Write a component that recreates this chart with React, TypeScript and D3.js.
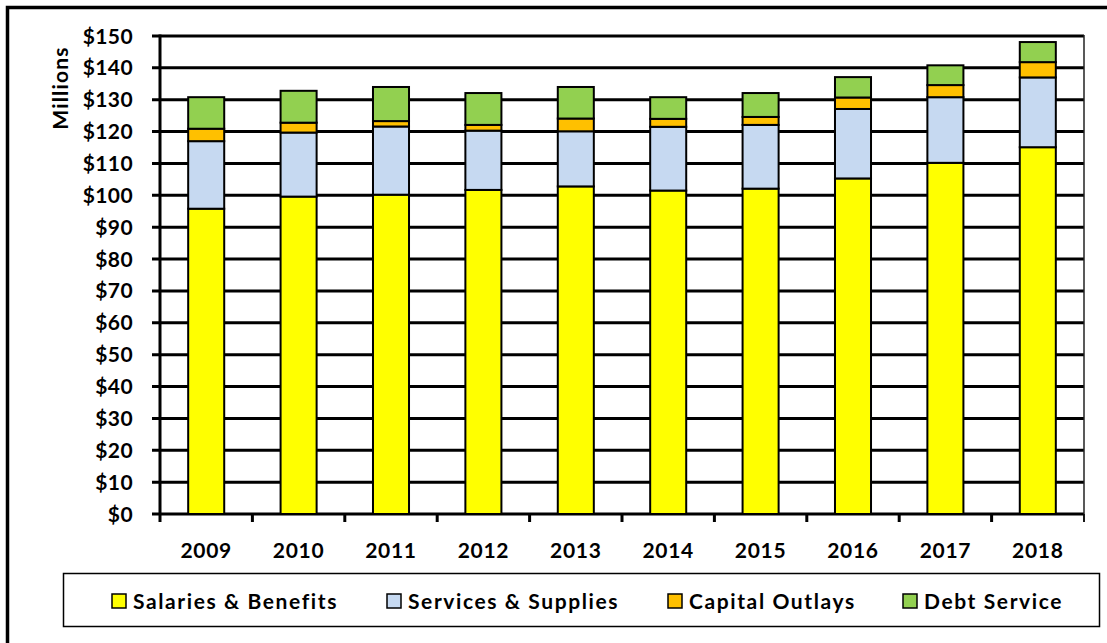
import React from "react";
import * as d3 from "d3";

const years = ["2009", "2010", "2011", "2012", "2013", "2014", "2015", "2016", "2017", "2018"];
const salaries = [95.8, 99.6, 100.2, 101.7, 102.8, 101.5, 102.1, 105.3, 110.2, 115.1];
const services = [21.2, 20.1, 21.4, 18.6, 17.3, 20.0, 20.0, 21.8, 20.6, 21.9];
const capital = [3.9, 3.1, 1.7, 1.8, 4.0, 2.5, 2.5, 3.6, 3.8, 4.8];
const debt = [9.9, 10.0, 10.7, 10.0, 9.9, 6.8, 7.5, 6.4, 6.2, 6.3];
const seriesNames = ["Salaries & Benefits", "Services & Supplies", "Capital Outlays", "Debt Service"];
const seriesColors = ["#FFFF00", "#C6D9F1", "#FFC000", "#92D050"];
const yTicks = d3.range(0, 151, 10);

const W = 1107, H = 643;
const M = { left: 160, right: 1084, top: 36, bottom: 514 };
const FONT = "Lato, 'Open Sans', sans-serif";

export default function App() {
  const keys = ["s0", "s1", "s2", "s3"];
  const rows = years.map((y, i) => ({ year: y, s0: salaries[i], s1: services[i], s2: capital[i], s3: debt[i] }));
  const stack = d3.stack<any>().keys(keys)(rows);
  const x = d3.scaleBand().domain(years).range([M.left, M.right]).paddingInner(0.61).paddingOuter(0.305);
  const xb = d3.scaleBand().domain(years).range([M.left, M.right]);
  const y = d3.scaleLinear().domain([0, 150]).range([M.bottom, M.top]);
  const legendX = [112, 387, 668, 903];

  return (
    <svg width={W} height={H} style={{ position: "absolute", left: 0, top: 0, background: "#fff" }} fontFamily={FONT}>
      <rect x={0} y={0} width={W} height={H} fill="#fff" />
      <rect x={7.5} y={7.5} width={W + 20} height={H + 20} fill="none" stroke="#000" strokeWidth={3.5} />
      {/* gridlines */}
      {yTicks.map((t) => (
        <line key={"g" + t} x1={M.left - 8} x2={M.right} y1={y(t)} y2={y(t)} stroke="#000" strokeWidth={3} />
      ))}
      {/* right plot border */}
      <line x1={M.right} x2={M.right} y1={M.top - 1} y2={M.bottom + 8} stroke="#222" strokeWidth={1.5} />
      {/* bars */}
      {stack.map((s, si) => (
        <g key={si}>
          {s.map((d: any, i: number) => (
            <rect key={i} x={x(years[i])!} width={x.bandwidth()} y={y(d[1])} height={y(d[0]) - y(d[1])}
              fill={seriesColors[si]} stroke="#000" strokeWidth={2} />
          ))}
        </g>
      ))}
      {/* y axis */}
      <line x1={M.left} x2={M.left} y1={M.top - 1.5} y2={M.bottom + 8} stroke="#000" strokeWidth={3} />
      {/* x ticks */}
      {years.map((yr, i) => (
        <line key={"xt" + i} x1={xb(yr)! + xb.bandwidth()} x2={xb(yr)! + xb.bandwidth()} y1={M.bottom} y2={M.bottom + 8}
          stroke="#000" strokeWidth={i === years.length - 1 ? 1.5 : 3} />
      ))}
      {/* y labels */}
      {yTicks.map((t) => (
        <text key={"yl" + t} x={133} y={y(t)} dy="0.36em" textAnchor="end" fontSize={21} fontWeight={700} letterSpacing={0.4}>
          {"$" + t}
        </text>
      ))}
      <text transform={`translate(68,${88}) rotate(-90)`} textAnchor="middle" fontSize={21} fontWeight={700} letterSpacing={1.2}>Millions</text>
      {/* x labels */}
      {years.map((yr) => (
        <text key={"xl" + yr} x={xb(yr)! + xb.bandwidth() / 2} y={558} textAnchor="middle" fontSize={21} fontWeight={700} letterSpacing={0.7}>
          {yr}
        </text>
      ))}
      {/* legend */}
      <rect x={63.5} y={573.5} width={1036} height={53} fill="#fff" stroke="#000" strokeWidth={1.5} />
      {seriesNames.map((n, i) => (
        <g key={n}>
          <rect x={legendX[i]} y={594} width={14} height={14} fill={seriesColors[i]} stroke="#000" strokeWidth={1.5} />
          <text x={legendX[i] + 21} y={609} fontSize={21} fontWeight={700} letterSpacing={1.6}>{n}</text>
        </g>
      ))}
    </svg>
  );
}
